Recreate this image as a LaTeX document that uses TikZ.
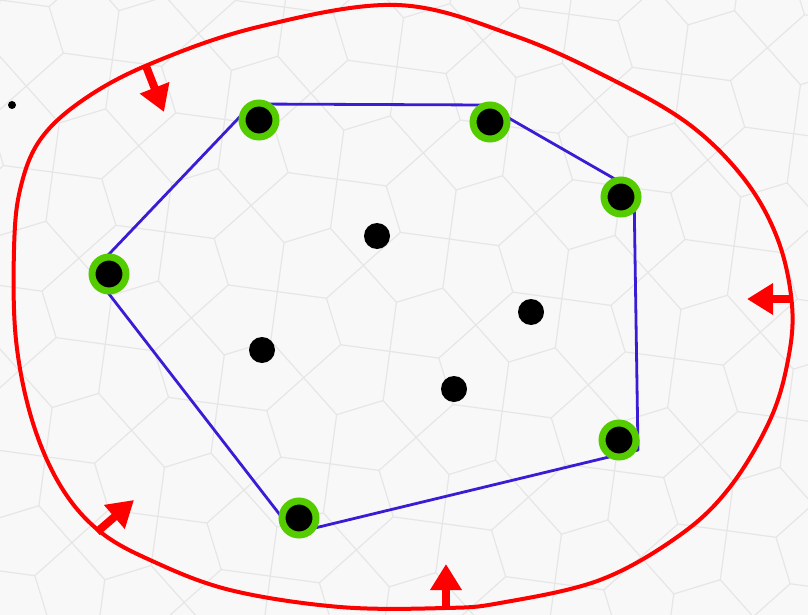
\documentclass[tikz,border=0pt]{standalone}
\usetikzlibrary{arrows.meta}
\definecolor{hullblue}{RGB}{58,28,212}
\definecolor{ringgreen}{RGB}{84,204,0}
\definecolor{bgfill}{RGB}{248,248,248}
\definecolor{tileline}{RGB}{230,230,230}
\tikzset{
  hullpt/.style={circle, inner sep=0pt, minimum size=34pt, fill=black, draw=ringgreen, line width=7pt},
  innerdot/.style={circle, inner sep=0pt, minimum size=26pt, fill=black},
  smalldot/.style={circle, inner sep=0pt, minimum size=8pt, fill=black},
  hullline/.style={draw=hullblue, line width=2.8pt, line join=round},
  envelope/.style={draw=red, line width=4pt},
  pusharrow/.style={draw=red, line width=8pt, -{Triangle[width=30pt,length=26pt]}},
  tile/.style={draw=tileline, line width=1.2pt}
}
\begin{document}
\begin{tikzpicture}[x=1pt,y=-1pt]
\fill[bgfill] (0,0) rectangle (808,615);
\useasboundingbox (0,0) rectangle (808,615);
% faint background tiling
\begin{scope}
\clip (0,0) rectangle (808,615);
\begin{scope}[x=90pt,y=90pt,rotate=17]
\foreach \i in {-5,...,13}{
  \foreach \j in {-11,...,4}{
    \pgfmathtruncatemacro\pp{mod(\i+\j+100,2)}
    \ifnum\pp=0
      \draw[tile] (\i,\j) -- (\i+.23,\j+.5) -- (\i,\j+1);
      \draw[tile] (\i+.23,\j+.5) -- (\i+.77,\j+.5);
      \draw[tile] (\i+1,\j) -- (\i+.77,\j+.5) -- (\i+1,\j+1);
    \else
      \draw[tile] (\i,\j) -- (\i+.5,\j+.23) -- (\i+1,\j);
      \draw[tile] (\i+.5,\j+.23) -- (\i+.5,\j+.77);
      \draw[tile] (\i,\j+1) -- (\i+.5,\j+.77) -- (\i+1,\j+1);
    \fi
  }
}
\end{scope}
\end{scope}

% red envelope
\draw[envelope] plot[smooth cycle, tension=0.6] coordinates {
 (397,5) (515,36) (613,80) (690,125) (745,180) (778,240) (792,305)
 (788,360) (770,420) (730,487) (680,535) (600,580) (500,603) (445,608)
 (340,607) (230,590) (150,560) (98,530) (60,485) (32,420) (16,340)
 (14,250) (20,190) (40,140) (83,100) (150,64) (258,27)};

% arrows pushing inward
\coordinate (a1s) at (146,66);  \coordinate (a1e) at (164,112);
\coordinate (a2s) at (792,299); \coordinate (a2e) at (747,299);
\coordinate (a3s) at (97,532);  \coordinate (a3e) at (134,500);
\coordinate (a4s) at (446,609); \coordinate (a4e) at (446,564);
\draw[pusharrow] (a1s) -- (a1e);
\draw[pusharrow] (a2s) -- (a2e);
\draw[pusharrow] (a3s) -- (a3e);
\draw[pusharrow] (a4s) -- (a4e);

% convex hull
\coordinate (b1) at (92,272);
\coordinate (b2) at (252,104);
\coordinate (b3) at (486,105);
\coordinate (b4) at (634,190);
\coordinate (b5) at (638,450);
\coordinate (b6) at (294,533);
\draw[hullline] (b1) -- (b2) -- (b3) -- (b4) -- (b5) -- (b6) -- cycle;

% hull points
\node[hullpt] (h1) at (259,120) {};
\node[hullpt] (h2) at (490,122) {};
\node[hullpt] (h3) at (621,197) {};
\node[hullpt] (h4) at (619,440) {};
\node[hullpt] (h5) at (299,518) {};
\node[hullpt] (h6) at (109,274) {};

% interior points
\node[innerdot] (d1) at (377,236) {};
\node[innerdot] (d2) at (531,312) {};
\node[innerdot] (d3) at (262,350) {};
\node[innerdot] (d4) at (454,389) {};
\node[smalldot] (s) at (12,105) {};
\end{tikzpicture}
\end{document}
